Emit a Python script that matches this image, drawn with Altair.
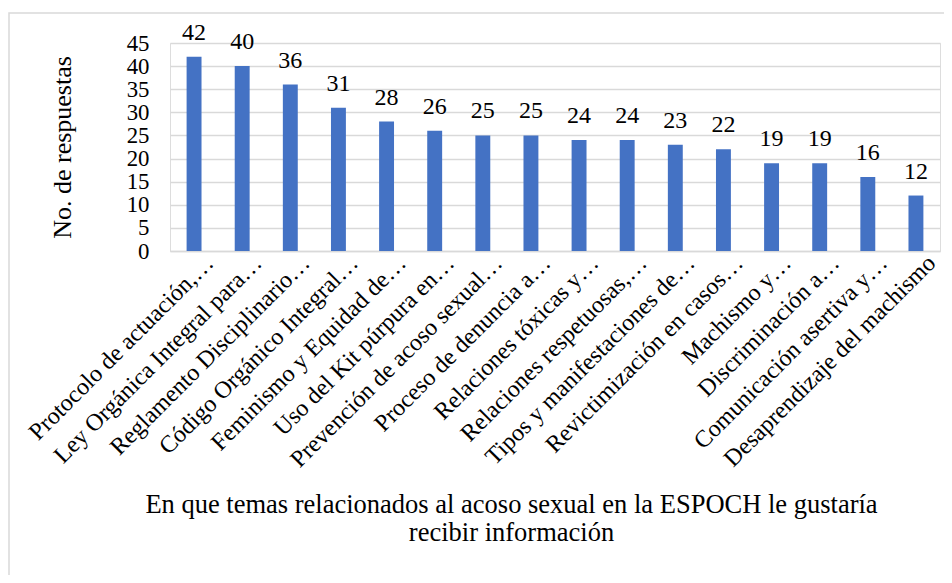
import altair as alt
import pandas as pd

categories = [
    "Protocolo de actuación,…",
    "Ley Orgánica Integral para…",
    "Reglamento Disciplinario…",
    "Código Orgánico Integral…",
    "Feminismo y Equidad de…",
    "Uso del Kit púrpura en…",
    "Prevención de acoso sexual…",
    "Proceso de denuncia a…",
    "Relaciones tóxicas y…",
    "Relaciones respetuosas,…",
    "Tipos y manifestaciones de…",
    "Revictimización en casos…",
    "Machismo y…",
    "Discriminación a…",
    "Comunicación asertiva y…",
    "Desaprendizaje del machismo",
]
values = [42, 40, 36, 31, 28, 26, 25, 25, 24, 24, 23, 22, 19, 19, 16, 12]
y_ticks = [0, 5, 10, 15, 20, 25, 30, 35, 40, 45]

x_title = ["En que temas relacionados al acoso sexual en la ESPOCH le gustaría",
           "recibir información"]
y_title = "No. de respuestas"

df = pd.DataFrame({"tema": categories, "n": values})

FONT = "Liberation Serif"
GRID = "#d9d9d9"

x_enc = alt.X(
    "tema:N",
    sort=categories,
    scale=alt.Scale(paddingInner=0.69, paddingOuter=0.345),
    axis=alt.Axis(
        title=x_title,
        titleFont=FONT,
        titleFontSize=26.5,
        titleFontWeight="normal",
        titleColor="#000000",
        titleX=341,
        titleY=261,
        titleAlign="center",
        titleBaseline="alphabetic",
        titleLineHeight=28.5,
        labelAngle=-45,
        labelAlign="right",
        labelBaseline="alphabetic",
        labelOffset=21,
        labelPadding=13,
        labelFont=FONT,
        labelFontSize=24,
        labelColor="#000000",
        labelLimit=0,
        labelOverlap=False,
        ticks=False,
        domain=True,
        domainColor=GRID,
        domainWidth=1.3,
    ),
)

y_enc = alt.Y(
    "n:Q",
    scale=alt.Scale(domain=[0, 45], nice=False),
    axis=alt.Axis(
        title=y_title,
        values=y_ticks,
        titleFont=FONT,
        titleFontSize=26,
        titleFontWeight="normal",
        titleColor="#000000",
        titleAngle=-90,
        titleX=-108,
        titleY=104,
        titleAlign="center",
        titleBaseline="middle",
        labelFont=FONT,
        labelFontSize=22.8,
        labelColor="#000000",
        labelPadding=21,
        labelOverlap=False,
        labelFlush=False,
        labelBound=False,
        labelSeparation=0,
        ticks=False,
        domain=False,
        grid=True,
        gridColor=GRID,
        gridWidth=1.3,
    ),
)

bars = alt.Chart(df).mark_bar(color="#4472C4").encode(x=x_enc, y=y_enc)

labels = alt.Chart(df).mark_text(
    font=FONT, fontSize=24, color="#000000", baseline="alphabetic", dy=-17
).encode(
    x=x_enc,
    y=y_enc,
    text=alt.Text("n:Q"),
)

frame = alt.Chart(alt.Data(values=[{}])).mark_rect(
    fillOpacity=0, stroke=GRID, strokeWidth=1.5
).encode(
    x=alt.value(-161), x2=alt.value(800), y=alt.value(-30), y2=alt.value(560)
)

chart = alt.layer(frame, bars, labels).properties(
    width=770,
    height=208,
    autosize=alt.AutoSizeParams(type="none"),
    padding={"left": 162, "top": 35, "right": 4, "bottom": 324},
).configure_view(stroke=None).configure_axis(
    labelOverlap=False
).configure(background="white")

chart.save("out.html", embed_options={"renderer": "svg", "actions": False})
